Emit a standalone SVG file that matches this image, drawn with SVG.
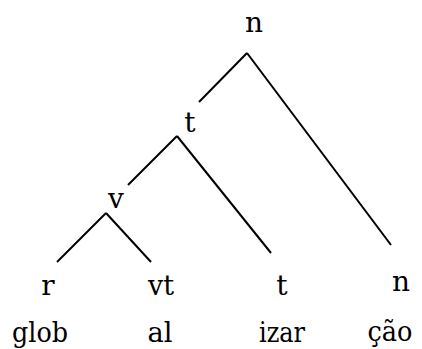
<svg xmlns="http://www.w3.org/2000/svg" width="422" height="349" viewBox="0 0 422 349">
<style>
.l{font-family:'DejaVu Serif',serif;font-size:28px;fill:#000;text-anchor:middle}
.e{stroke:#000;stroke-width:2;fill:none}
</style>
<rect width="422" height="349" fill="#fff"/>
<g id="connectors">
<line class="e" x1="247" y1="53" x2="199" y2="102"/>
<line class="e" x1="247" y1="53" x2="391" y2="245"/>
<line class="e" x1="177" y1="136" x2="128" y2="185"/>
<line class="e" x1="177" y1="136" x2="271" y2="253"/>
<line class="e" x1="106" y1="213" x2="57" y2="262"/>
<line class="e" x1="106" y1="213" x2="151" y2="262"/>
</g>
<g id="n_root"><text class="l" x="254" y="32">n</text></g>
<g id="t_mid"><text class="l" x="190" y="132">t</text></g>
<g id="v_node"><text class="l" x="116" y="208">v</text></g>
<g id="r_leaf"><text class="l" x="48" y="295">r</text></g>
<g id="vt_leaf"><text class="l" x="161" y="295" textLength="26" lengthAdjust="spacingAndGlyphs">vt</text></g>
<g id="t_leaf"><text class="l" x="282" y="295">t</text></g>
<g id="n_leaf"><text class="l" x="401" y="291">n</text></g>
<g id="glob"><text class="l" x="40" y="342" textLength="56" lengthAdjust="spacingAndGlyphs">glob</text></g>
<g id="al"><text class="l" x="160" y="342" textLength="25" lengthAdjust="spacingAndGlyphs">al</text></g>
<g id="izar"><text class="l" x="282" y="342" textLength="46" lengthAdjust="spacingAndGlyphs">izar</text></g>
<g id="cao"><text class="l" x="390" y="341" textLength="45" lengthAdjust="spacingAndGlyphs">ção</text></g>
</svg>
